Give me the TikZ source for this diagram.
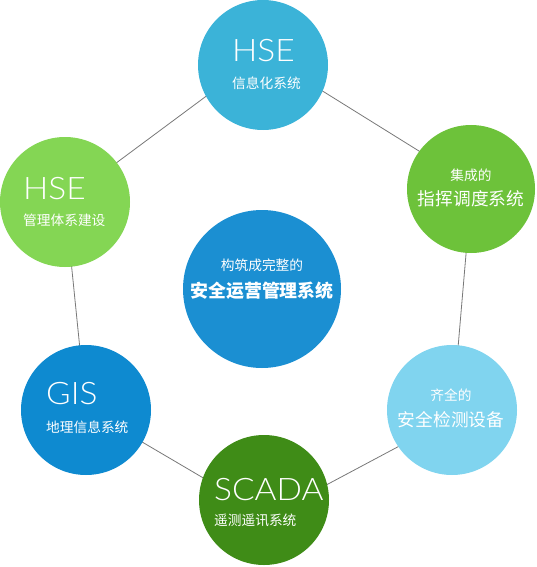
\documentclass[tikz,border=0pt]{standalone}
\usepackage{fontspec}
\usetikzlibrary{positioning}
\setmainfont{Noto Sans CJK SC}
\newfontfamily\lightfont{Lato}[UprightFont={* Light}, FakeStretch=1.08]
\definecolor{sysCyan}{RGB}{59, 179, 216}
\definecolor{sysGreen}{RGB}{109, 194, 58}
\definecolor{sysSky}{RGB}{128, 212, 239}
\definecolor{sysDeep}{RGB}{63, 140, 23}
\definecolor{sysBlue}{RGB}{14, 138, 208}
\definecolor{sysLime}{RGB}{132, 214, 84}
\definecolor{sysCore}{RGB}{27, 143, 210}
\definecolor{linkGray}{RGB}{120, 120, 120}

\begin{document}
\begin{tikzpicture}[x=1pt, y=-1pt, every node/.style={text=white, inner sep=0pt},
    bubble/.style={circle, fill=#1, minimum size=130pt},
    big/.style={font=\lightfont\fontsize{31}{31}\selectfont, anchor=base west},
    small/.style={font=\fontsize{13.7}{16}\selectfont},
    large/.style={font=\fontsize{17.7}{20}\selectfont}]
    \useasboundingbox (0,0) rectangle (536,567);
    \foreach \n/\x/\y in {vTop/263/54, vCmd/472/184, vDet/452/418, vScada/268/516, vGis/86/409, vMgmt/65/201} {
        \coordinate (\n) at (\x,\y);
    }
    \draw[linkGray, line width=0.8pt] (vTop) -- (vCmd) -- (vDet) -- (vScada) -- (vGis) -- (vMgmt) -- cycle;

    \node[bubble=sysCyan] (info) at (263,65) {};
    \node[bubble=sysGreen, minimum size=128pt] (cmd) at (471,189) {};
    \node[bubble=sysSky] (det) at (452,410) {};
    \node[bubble=sysDeep] (scada) at (264,500) {};
    \node[bubble=sysBlue] (gis) at (86,410) {};
    \node[bubble=sysLime] (mgmt) at (65,202) {};
    \node[bubble=sysCore, minimum size=158pt] (core) at (262,289) {};

    \node[big] (infoTitle) at (232,62) {HSE};
    \node[small, anchor=west] (infoText) at (232,83) {信息化系统};
    \node[big] (mgmtTitle) at (23,199) {HSE};
    \node[small, anchor=west] (mgmtText) at (23,220) {管理体系建设};
    \node[big] (gisTitle) at (46,404) {GIS};
    \node[small, anchor=west] (gisText) at (46,427) {地理信息系统};
    \node[big] (scadaTitle) at (214,500) {SCADA};
    \node[small, anchor=west] (scadaText) at (214,520) {遥测遥讯系统};
    \node[small] (cmdTop) at (471,175) {集成的};
    \node[large] (cmdText) at (471,199) {指挥调度系统};
    \node[small] (detTop) at (451,395) {齐全的};
    \node[large] (detText) at (451,420) {安全检测设备};
    \node[small] (coreTop) at (262,265) {构筑成完整的};
    \node[large, font=\bfseries\fontsize{17.9}{20}\selectfont] (coreText) at (262,291) {安全运营管理系统};
\end{tikzpicture}
\end{document}
